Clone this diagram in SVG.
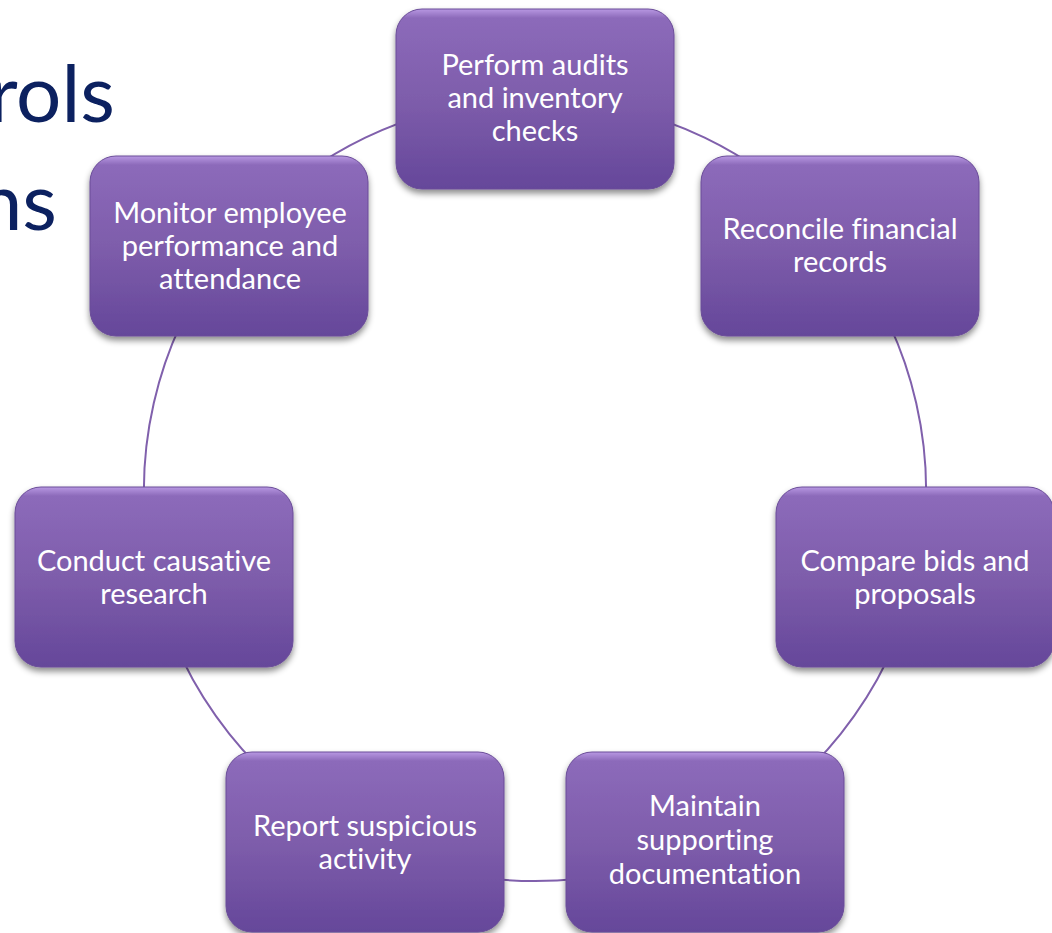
<svg xmlns="http://www.w3.org/2000/svg" width="1052" height="933" viewBox="0 0 1052 933">
<defs>
<linearGradient id="g" x1="0" y1="0" x2="0" y2="1">
<stop offset="0" stop-color="#b898e2"/>
<stop offset="0.05" stop-color="#8c6aba"/>
<stop offset="0.5" stop-color="#7e5dab"/>
<stop offset="1" stop-color="#65479a"/>
</linearGradient>
<filter id="sh" x="-10%" y="-10%" width="120%" height="125%">
<feDropShadow dx="0" dy="4" stdDeviation="3" flood-color="#000" flood-opacity="0.45"/>
</filter>
</defs>
<style>
.box{fill:url(#g);stroke:#6a4c98;stroke-width:1;filter:url(#sh)}
.lbl{font-family:Lato,"Liberation Sans",sans-serif;font-size:29px;fill:#fff;text-anchor:middle;font-variant-ligatures:none}
.ttl{font-family:Lato,"Liberation Sans",sans-serif;font-size:80px;fill:#0c2160;text-anchor:end}
.con{fill:none;stroke:#8060ac;stroke-width:2}
</style>
<rect width="1052" height="933" fill="#fff"/>
<text class="ttl" x="115" y="122">rols</text>
<text class="ttl" x="57" y="230">ns</text>
<g id="connectors">
<path class="con" d="M535 99 A391 391 0 0 1 840.7 246.2"/>
<path class="con" d="M840.7 246.2 A391 391 0 0 1 916.2 577"/>
<path class="con" d="M916.2 577 A391 391 0 0 1 704.7 842.3"/>
<path class="con" d="M704.7 842.3 A391 391 0 0 1 365.3 842.3"/>
<path class="con" d="M365.3 842.3 A391 391 0 0 1 153.8 577"/>
<path class="con" d="M153.8 577 A391 391 0 0 1 229.3 246.2"/>
<path class="con" d="M229.3 246.2 A391 391 0 0 1 535 99"/>
</g>
<g id="n0"><rect class="box" x="396" y="9" width="278" height="180" rx="26"/>
<text class="lbl"><tspan x="535" y="75">Perform audits</tspan><tspan x="535" y="108">and inventory</tspan><tspan x="535" y="141">checks</tspan></text></g>
<g id="n1"><rect class="box" x="701" y="156" width="278" height="180" rx="26"/>
<text class="lbl"><tspan x="840" y="239">Reconcile financial</tspan><tspan x="840" y="272">records</tspan></text></g>
<g id="n2"><rect class="box" x="776" y="487" width="278" height="180" rx="26"/>
<text class="lbl"><tspan x="915" y="571">Compare bids and</tspan><tspan x="915" y="604">proposals</tspan></text></g>
<g id="n3"><rect class="box" x="566" y="752" width="278" height="180" rx="26"/>
<text class="lbl"><tspan x="705" y="816">Maintain</tspan><tspan x="705" y="850">supporting</tspan><tspan x="705" y="884">documentation</tspan></text></g>
<g id="n4"><rect class="box" x="226" y="752" width="278" height="180" rx="26"/>
<text class="lbl"><tspan x="365" y="836">Report suspicious</tspan><tspan x="365" y="869">activity</tspan></text></g>
<g id="n5"><rect class="box" x="15" y="487" width="278" height="180" rx="26"/>
<text class="lbl"><tspan x="154" y="571">Conduct causative</tspan><tspan x="154" y="604">research</tspan></text></g>
<g id="n6"><rect class="box" x="90" y="156" width="278" height="180" rx="26"/>
<text class="lbl"><tspan x="230" y="223">Monitor employee</tspan><tspan x="230" y="256">performance and</tspan><tspan x="230" y="289">attendance</tspan></text></g>
</svg>
